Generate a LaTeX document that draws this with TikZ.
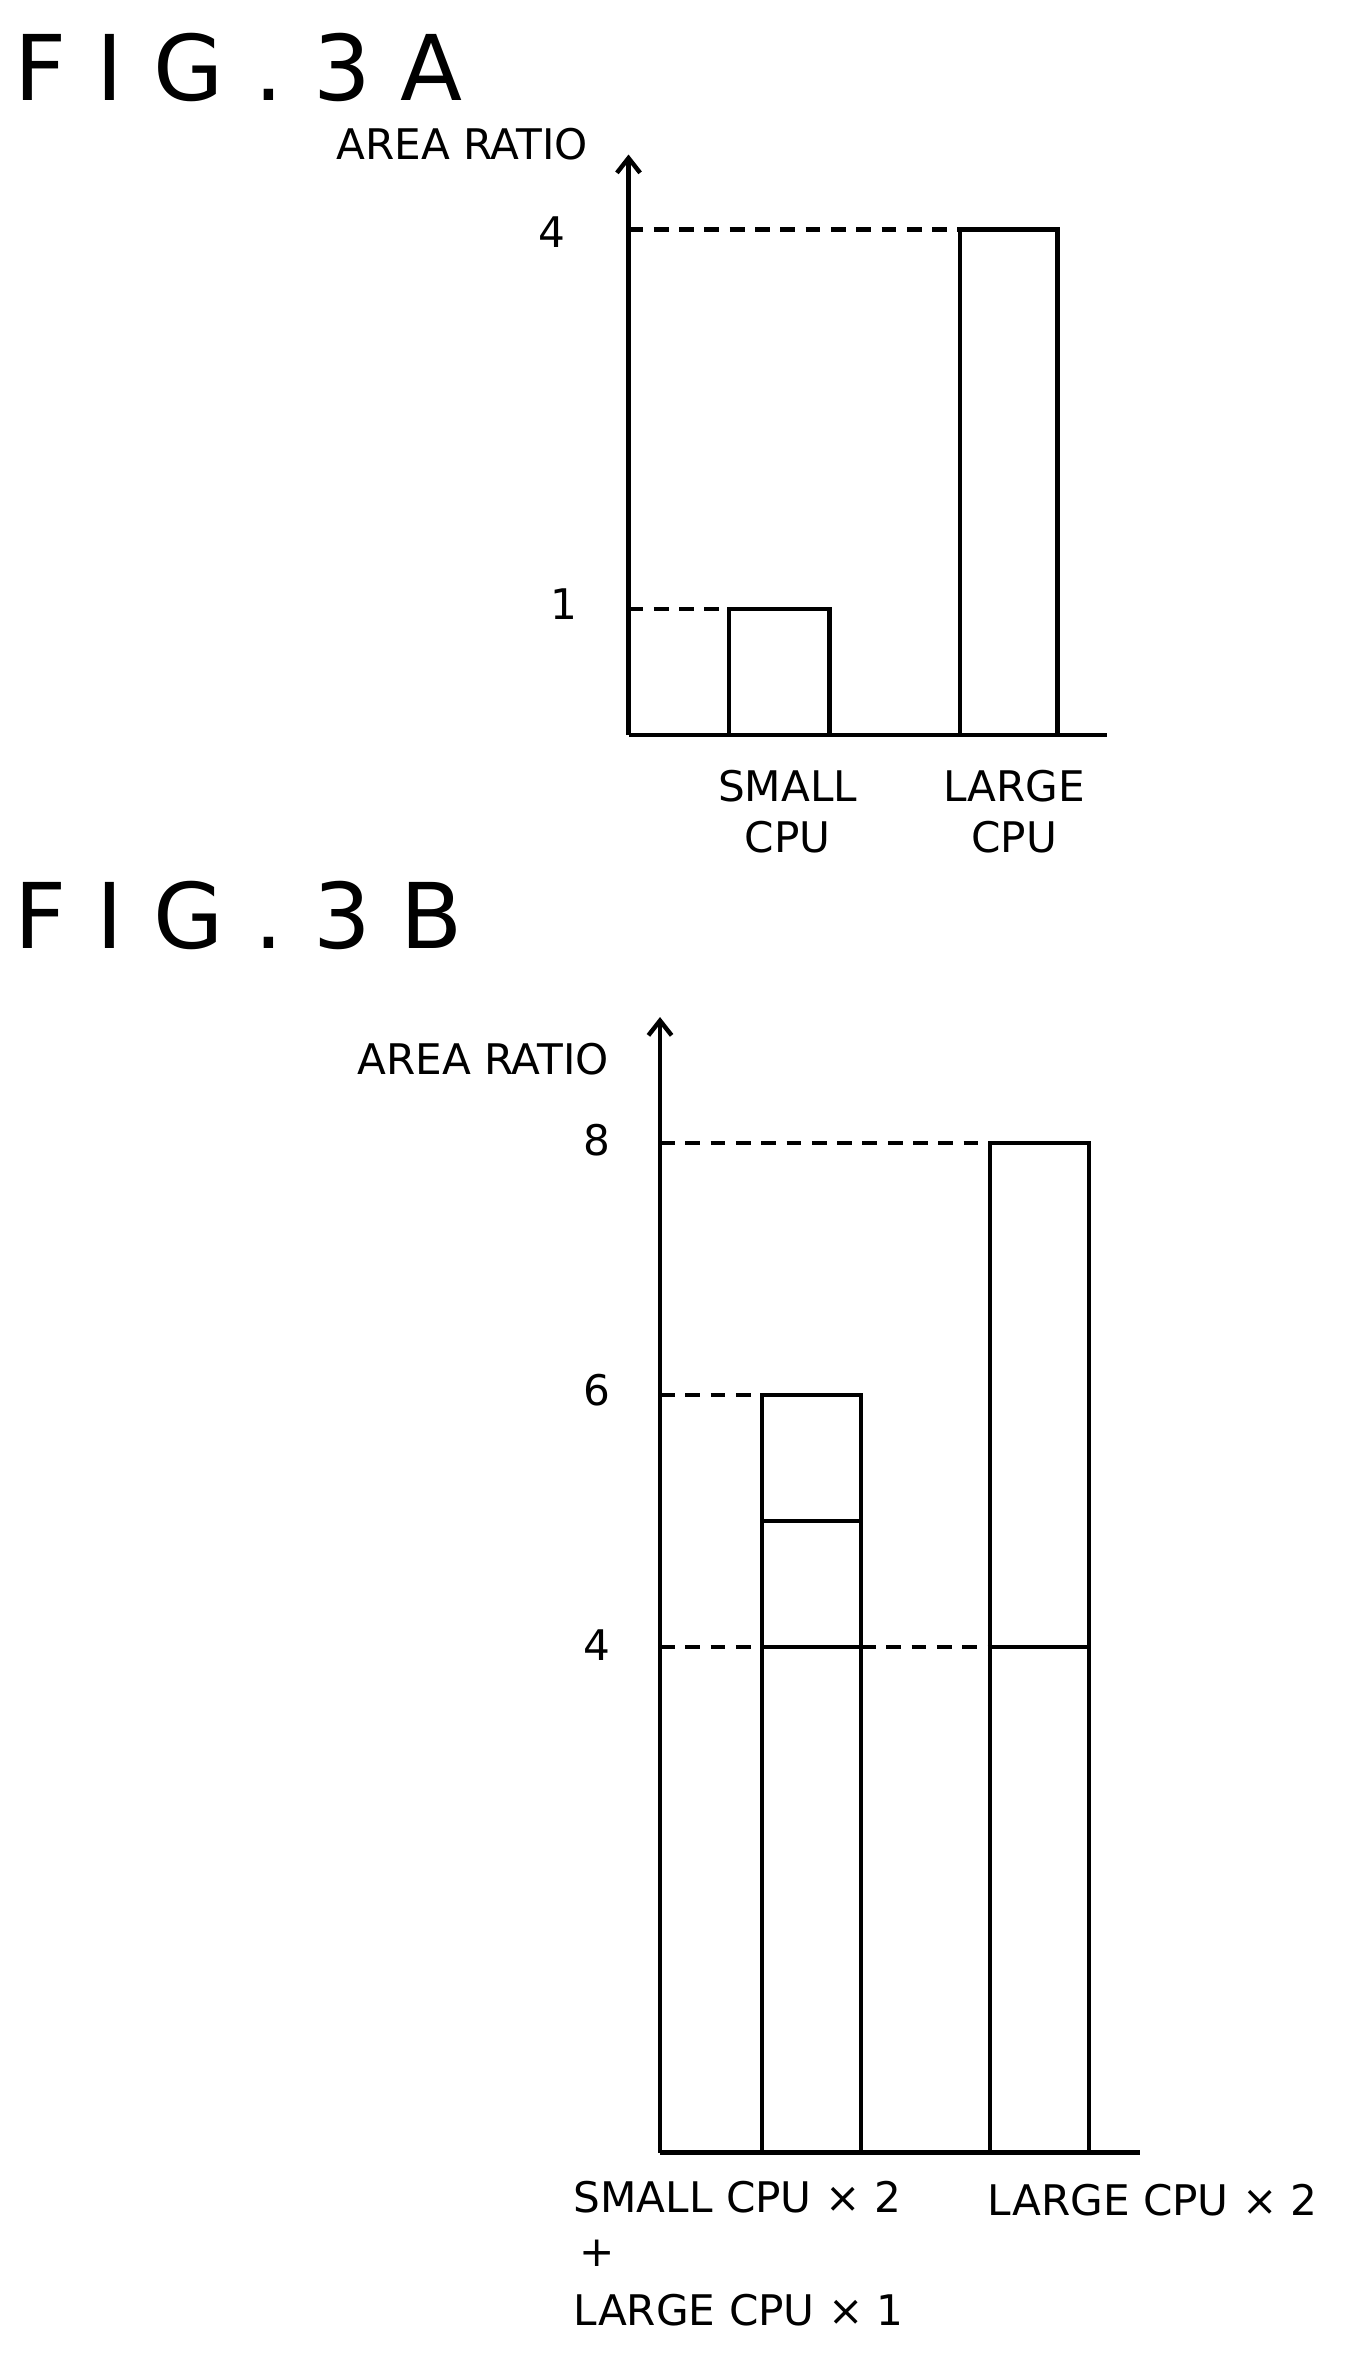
\documentclass[tikz,border=0pt]{standalone}
\usepackage{fontspec}
\setmainfont{DejaVu Sans}
\usetikzlibrary{arrows.meta}
\begin{document}
\begin{tikzpicture}[x=0.05cm,y=-0.05cm,line width=4.2pt,
 lbl/.style={font=\fontsize{40}{48}\selectfont,inner sep=0pt},
 ttl/.style={font=\fontsize{86}{90}\selectfont,inner sep=0pt,anchor=west},
 dsh/.style={dash pattern=on 14pt off 10pt}]
\useasboundingbox (0,0) rectangle (905.3,1577.3);
% FIG 3A
\node[ttl] (ta) at (8,45) {F\,\,I\,\,G\,\,.\,\,3\,\,A};
\coordinate (ya) at (419,103); \coordinate (oa) at (419,490); \coordinate (xa) at (738,490);
\draw[-{Straight Barb[length=14pt,width=22pt]}] (oa) -- (ya);
\draw (oa) -- (xa);
\draw (486,490) rectangle (553,406);
\draw (640,490) rectangle (705,153);
\draw[dsh] (419,153) -- (640,153);
\draw[dsh] (419,406) -- (486,406);
\node[lbl] (l4a) at (368,155) {4};
\node[lbl] (l1a) at (376,403) {1};
\node[lbl] (ara) at (308,96) {AREA RATIO};
\node[lbl,align=center] (sa) at (525,541) {SMALL\\CPU};
\node[lbl,align=center] (la) at (676,541) {LARGE\\CPU};
% FIG 3B
\node[ttl] (tb) at (8,610) {F\,\,I\,\,G\,\,.\,\,3\,\,B};
\coordinate (yb) at (440,678); \coordinate (ob) at (440,1435); \coordinate (xb) at (760,1435);
\draw[-{Straight Barb[length=14pt,width=22pt]}] (ob) -- (yb);
\draw (ob) -- (xb);
\draw (508,1435) rectangle (574,930);
\draw (508,1014) -- (574,1014);
\draw (508,1098) -- (574,1098);
\draw (660,1435) rectangle (726,762);
\draw (660,1098) -- (726,1098);
\draw[dsh] (440,762) -- (660,762);
\draw[dsh] (440,930) -- (508,930);
\draw[dsh] (440,1098) -- (508,1098);
\draw[dsh] (574,1098) -- (660,1098);
\node[lbl] (l8) at (398,760) {8};
\node[lbl] (l6) at (398,927) {6};
\node[lbl] (l4b) at (398,1097) {4};
\node[lbl] (arb) at (322,706) {AREA RATIO};
\node[lbl,anchor=west] (s2) at (381,1465) {SMALL CPU × 2};
\node[lbl] (pl) at (398,1502) {+};
\node[lbl,anchor=west] (l1) at (381,1540) {LARGE CPU × 1};
\node[lbl,anchor=west] (l2) at (657,1467) {LARGE CPU × 2};
\end{tikzpicture}
\end{document}
